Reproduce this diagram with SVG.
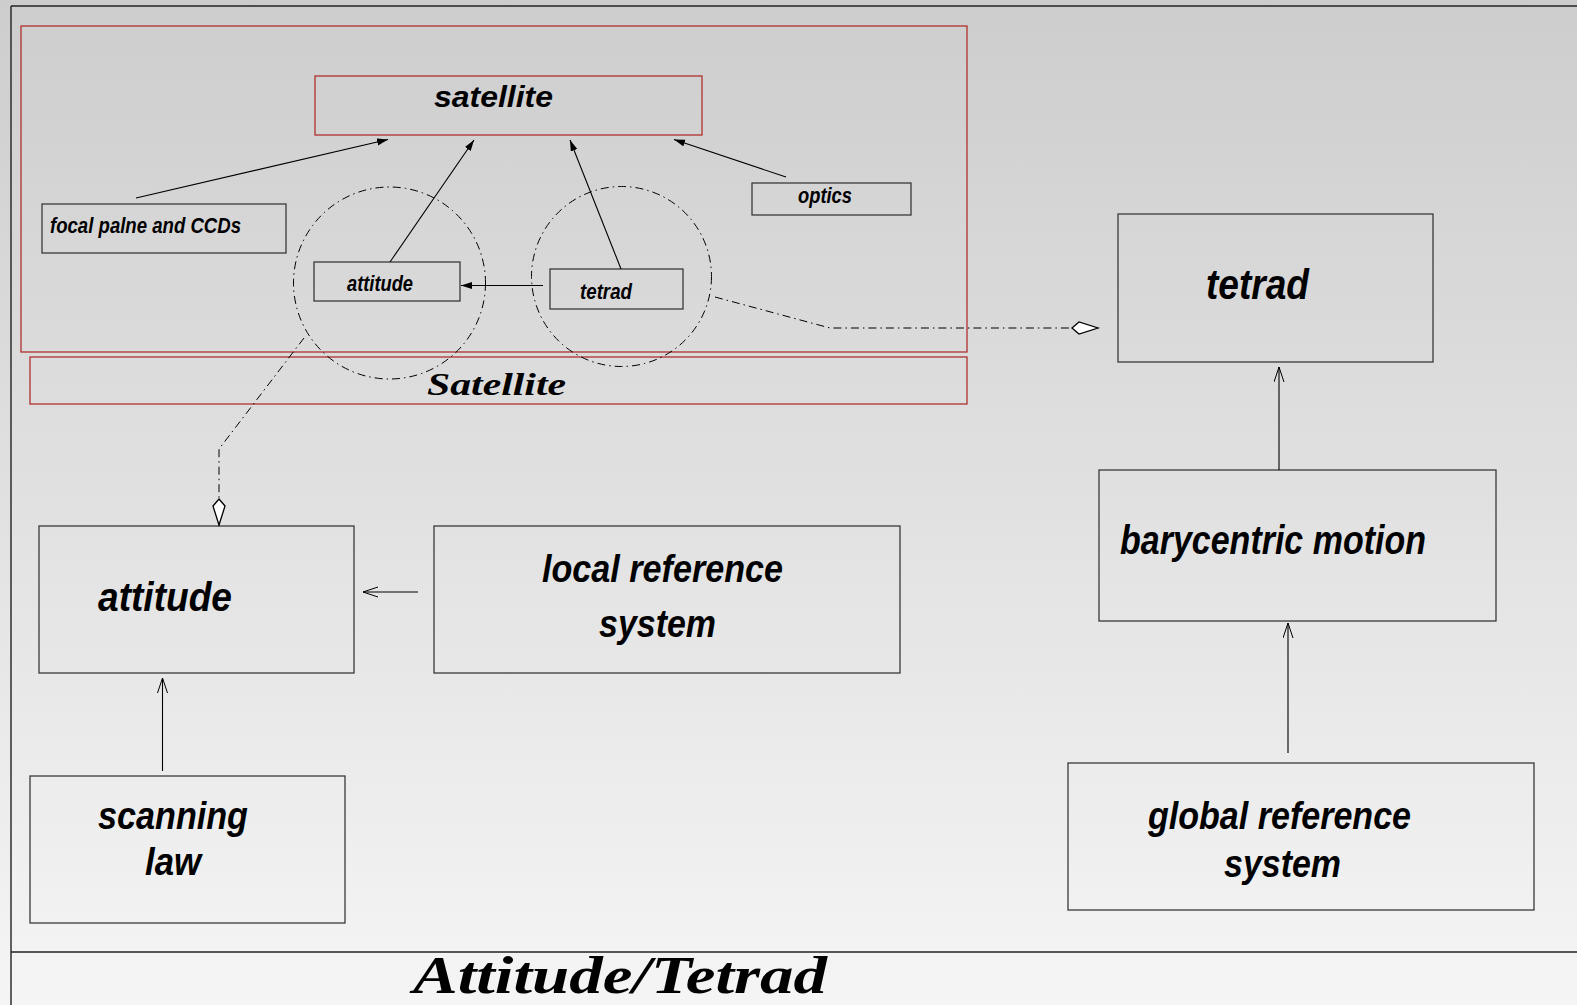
<svg xmlns="http://www.w3.org/2000/svg" width="1577" height="1005" viewBox="0 0 1577 1005">
<defs>
<linearGradient id="bg" x1="0" y1="0" x2="0" y2="1">
<stop offset="0" stop-color="#cdcdcd"/>
<stop offset="1" stop-color="#f5f5f5"/>
</linearGradient>
<marker id="fa" markerUnits="userSpaceOnUse" markerWidth="12" markerHeight="8" refX="11" refY="3.5" orient="auto">
<path d="M0,0 L11,3.5 L0,7 z" fill="#000"/>
</marker>
<marker id="oa" markerUnits="userSpaceOnUse" markerWidth="16" markerHeight="12" refX="15" refY="5.5" orient="auto">
<path d="M0,0.5 L15,5.5 L0,10.5" fill="none" stroke="#000" stroke-width="1"/>
</marker>
<marker id="dm" markerUnits="userSpaceOnUse" markerWidth="30" markerHeight="16" refX="27" refY="7" orient="auto">
<path d="M1,7 L8,1 L27,7 L8,13 z" fill="#fff" stroke="#000" stroke-width="1.3"/>
</marker>
</defs>
<style>
.box{fill:none;stroke:#3a3a3a;stroke-width:1.3}
.red{fill:none;stroke:#b03030;stroke-width:1.3}
.lbl{font-family:"Liberation Sans",Arial,sans-serif;font-weight:bold;font-style:italic;fill:#000}
.ser{font-family:"Liberation Serif","Times New Roman",serif;font-weight:bold;font-style:italic;fill:#000}
.ln{fill:none;stroke:#000;stroke-width:1.1}
.dd{fill:none;stroke:#000;stroke-width:1;stroke-dasharray:8 4 1.5 4}
.fr{fill:none;stroke:#222;stroke-width:1.4}
</style>
<rect x="0" y="0" width="1577" height="1005" fill="url(#bg)"/>
<g id="frame">
<line class="fr" x1="11" y1="6" x2="1577" y2="6"/>
<line class="fr" x1="11" y1="6" x2="11" y2="1005"/>
<line class="fr" x1="11" y1="952" x2="1577" y2="952"/>
<text class="ser" x="413" y="993" font-size="52" textLength="414" lengthAdjust="spacingAndGlyphs">Attitude/Tetrad</text>
</g>
<g id="satellite-package">
<rect class="red" x="21" y="26" width="946" height="326"/>
<rect class="red" x="30" y="357" width="937" height="47"/>
<text class="ser" x="427" y="395" font-size="32" textLength="139" lengthAdjust="spacingAndGlyphs">Satellite</text>
</g>
<g id="n-satellite">
<rect class="red" x="315" y="76" width="387" height="59"/>
<text class="lbl" x="434" y="107" font-size="30" textLength="119" lengthAdjust="spacingAndGlyphs">satellite</text>
</g>
<g id="n-focal">
<rect class="box" x="42" y="204" width="244" height="49"/>
<text class="lbl" x="50" y="233" font-size="22" textLength="191" lengthAdjust="spacingAndGlyphs">focal palne and CCDs</text>
</g>
<g id="n-attitude-small">
<rect class="box" x="314" y="262" width="146" height="39"/>
<text class="lbl" x="347" y="291" font-size="22" textLength="66" lengthAdjust="spacingAndGlyphs">attitude</text>
</g>
<g id="n-tetrad-small">
<rect class="box" x="550" y="269" width="133" height="40"/>
<text class="lbl" x="580" y="299" font-size="22" textLength="52" lengthAdjust="spacingAndGlyphs">tetrad</text>
</g>
<g id="n-optics">
<rect class="box" x="752" y="183" width="159" height="32"/>
<text class="lbl" x="798" y="203" font-size="22" textLength="54" lengthAdjust="spacingAndGlyphs">optics</text>
</g>
<g id="n-tetrad">
<rect class="box" x="1118" y="214" width="315" height="148"/>
<text class="lbl" x="1206" y="299" font-size="43" textLength="103" lengthAdjust="spacingAndGlyphs">tetrad</text>
</g>
<g id="n-barycentric">
<rect class="box" x="1099" y="470" width="397" height="151"/>
<text class="lbl" x="1120" y="554" font-size="40" textLength="306" lengthAdjust="spacingAndGlyphs">barycentric motion</text>
</g>
<g id="n-global">
<rect class="box" x="1068" y="763" width="466" height="147"/>
<text class="lbl" x="1148" y="829" font-size="39" textLength="263" lengthAdjust="spacingAndGlyphs">global reference</text>
<text class="lbl" x="1224" y="877" font-size="39" textLength="117" lengthAdjust="spacingAndGlyphs">system</text>
</g>
<g id="n-attitude">
<rect class="box" x="39" y="526" width="315" height="147"/>
<text class="lbl" x="98" y="611" font-size="41" textLength="134" lengthAdjust="spacingAndGlyphs">attitude</text>
</g>
<g id="n-local">
<rect class="box" x="434" y="526" width="466" height="147"/>
<text class="lbl" x="542" y="582" font-size="39" textLength="241" lengthAdjust="spacingAndGlyphs">local reference</text>
<text class="lbl" x="599" y="637" font-size="39" textLength="117" lengthAdjust="spacingAndGlyphs">system</text>
</g>
<g id="n-scanning">
<rect class="box" x="30" y="776" width="315" height="147"/>
<text class="lbl" x="98" y="829" font-size="39" textLength="150" lengthAdjust="spacingAndGlyphs">scanning</text>
<text class="lbl" x="145" y="875" font-size="39" textLength="56" lengthAdjust="spacingAndGlyphs">law</text>
</g>
<g id="connectors">
<circle class="dd" cx="389.5" cy="283" r="96"/>
<circle class="dd" cx="621.5" cy="276.5" r="90"/>
<line class="ln" x1="136" y1="198" x2="388" y2="139.5" marker-end="url(#fa)"/>
<line class="ln" x1="390" y1="262" x2="474" y2="140" marker-end="url(#fa)"/>
<line class="ln" x1="621" y1="269" x2="570" y2="140" marker-end="url(#fa)"/>
<line class="ln" x1="786" y1="177" x2="674" y2="139.5" marker-end="url(#fa)"/>
<line class="ln" x1="543" y1="285.5" x2="461" y2="285.5" marker-end="url(#fa)"/>
<polyline class="dd" points="715,297 830,328 1098,328" marker-end="url(#dm)"/>
<polyline class="dd" points="304,338 219,449 219,525" marker-end="url(#dm)"/>
<line class="ln" x1="1279" y1="470" x2="1279" y2="367" marker-end="url(#oa)"/>
<line class="ln" x1="1288" y1="753" x2="1288" y2="623" marker-end="url(#oa)"/>
<line class="ln" x1="418" y1="592" x2="363" y2="592" marker-end="url(#oa)"/>
<line class="ln" x1="162.5" y1="771" x2="162.5" y2="678" marker-end="url(#oa)"/>
</g>
</svg>
